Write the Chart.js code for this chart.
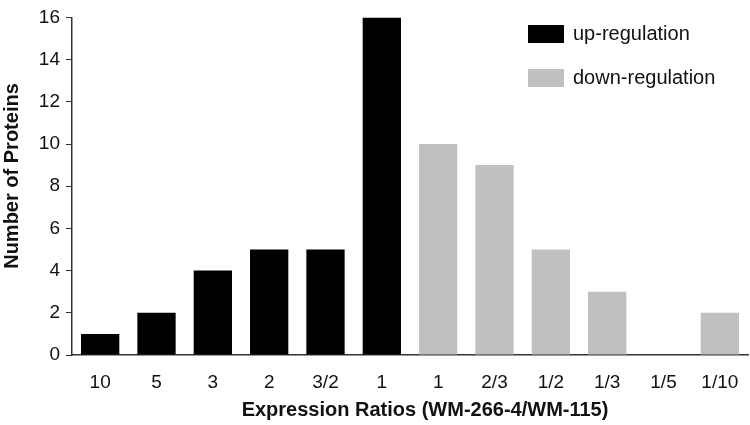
<!DOCTYPE html>
<html>
<head>
<meta charset="utf-8">
<script src="https://cdn.jsdelivr.net/npm/chart.js@4"></script>
<style>
  html, body { margin: 0; padding: 0; background: #fff; }
  #wrap { width: 750px; height: 425px; }
</style>
</head>
<body>
<div id="wrap"><canvas id="chart"></canvas></div>
<script>
// categories on the x axis
const ratios = ['10', '5', '3', '2', '3/2', '1', '1', '2/3', '1/2', '1/3', '1/5', '1/10'];
// protein counts per ratio
const upCounts   = [1, 2, 4, 5, 5, 16, null, null, null, null, null, null];
const downCounts = [null, null, null, null, null, null, 10, 9, 5, 3, 0, 2];
const yTicks = [0, 2, 4, 6, 8, 10, 12, 14, 16];
const xTitle = 'Expression Ratios (WM-266-4/WM-115)';
const yTitle = 'Number of Proteins';

const FONT = 'Liberation Sans, Arial, sans-serif';

// legend inside the plot (top right) + axis titles placed by hand
const extras = {
  id: 'extras',
  afterDraw(chart) {
    const ctx = chart.ctx;
    ctx.save();
    ctx.font = '20px ' + FONT;
    ctx.textBaseline = 'middle';
    chart.data.datasets.forEach((ds, i) => {
      const y = 34 + i * 44;
      ctx.fillStyle = ds.backgroundColor;
      ctx.fillRect(528, y - 9, 36, 18);
      ctx.fillStyle = '#111';
      ctx.fillText(ds.label, 573, y);
    });

    // axis titles
    ctx.font = 'bold 20px ' + FONT;
    ctx.textAlign = 'center';
    ctx.fillText(xTitle, 425, 410);
    ctx.translate(12, 176);
    ctx.rotate(-Math.PI / 2);
    ctx.fillText(yTitle, 0, 0);
    ctx.restore();
  }
};

const data = {
  labels: ratios,
  datasets: [
    { label: 'up-regulation', data: upCounts, backgroundColor: '#000000' },
    { label: 'down-regulation', data: downCounts, backgroundColor: '#c0c0c0' }
  ]
};

const config = {
  type: 'bar',
  data,
  options: {
    responsive: false,
    animation: false,
    devicePixelRatio: 1,
    categoryPercentage: 1,
    barPercentage: 0.68,
    layout: { padding: { top: 6, right: 2, left: 0, bottom: 0 } },
    plugins: {
      legend: { display: false },
      tooltip: { enabled: false }
    },
    scales: {
      x: {
        stacked: true,
        grid: { display: false },
        border: { display: true, color: '#333', width: 1.5 },
        ticks: { color: '#111', font: { family: FONT, size: 19 }, padding: 8, maxRotation: 0, autoSkip: false },
        afterFit(scale) { scale.height = 70; }
      },
      y: {
        stacked: true,
        min: 0,
        max: 16,
        afterBuildTicks(scale) { scale.ticks = yTicks.map(v => ({ value: v })); },
        grid: { drawOnChartArea: false, drawTicks: true, tickLength: 6, color: '#333' },
        border: { display: true, color: '#333', width: 1.5 },
        ticks: { color: '#111', font: { family: FONT, size: 19 }, padding: 6 },
        afterFit(scale) { scale.width = 72; }
      }
    }
  },
  plugins: [extras]
};

const canvas = document.getElementById('chart');
canvas.width = 750;
canvas.height = 425;
const myChart = new Chart(canvas.getContext('2d'), config);
</script>
</body>
</html>
